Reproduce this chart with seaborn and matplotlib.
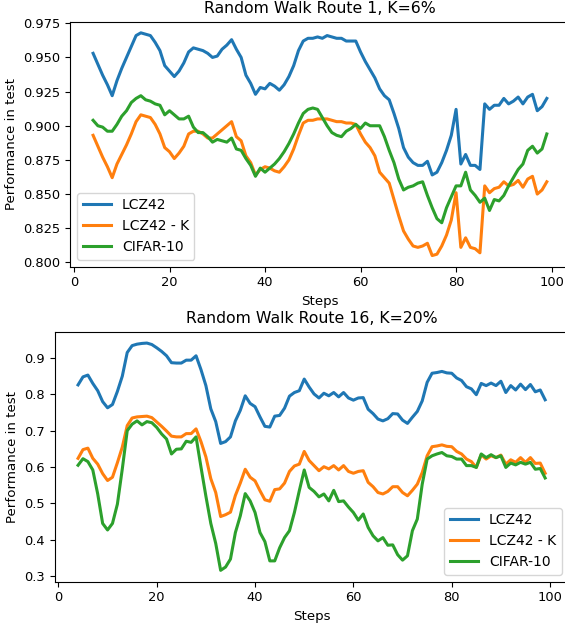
import matplotlib
matplotlib.use("Agg")
import matplotlib.pyplot as plt
import seaborn as sns
import pandas as pd

steps = list(range(4, 100))
series_names = ["LCZ42", "LCZ42 - K", "CIFAR-10"]
colors = ["#1f77b4", "#ff7f0e", "#2ca02c"]
x_ticks = [0, 20, 40, 60, 80, 100]
route1_y_ticks = [0.800, 0.825, 0.850, 0.875, 0.900, 0.925, 0.950, 0.975]
route16_y_ticks = [0.3, 0.4, 0.5, 0.6, 0.7, 0.8, 0.9]

route1_lcz42 = [
    0.953, 0.945, 0.937, 0.930, 0.922, 0.933, 0.942, 0.950, 0.958, 0.966,
    0.968, 0.967, 0.966, 0.961, 0.955, 0.944, 0.940, 0.936, 0.940, 0.946,
    0.954, 0.957, 0.956, 0.955, 0.953, 0.950, 0.951, 0.956, 0.959, 0.963,
    0.956, 0.950, 0.937, 0.931, 0.923, 0.928, 0.927, 0.931, 0.929, 0.926,
    0.930, 0.936, 0.944, 0.955, 0.962, 0.964, 0.964, 0.965, 0.964, 0.966,
    0.965, 0.964, 0.964, 0.962, 0.962, 0.962, 0.954, 0.947, 0.941, 0.935,
    0.927, 0.922, 0.919, 0.909, 0.898, 0.884, 0.877, 0.873, 0.871, 0.871,
    0.874, 0.864, 0.866, 0.873, 0.882, 0.893, 0.912, 0.872, 0.879, 0.871,
    0.871, 0.868, 0.916, 0.912, 0.915, 0.915, 0.920, 0.916, 0.918, 0.921,
    0.916, 0.921, 0.923, 0.911, 0.914, 0.920,
]
route1_lcz42_k = [
    0.893, 0.885, 0.877, 0.870, 0.862, 0.872, 0.879, 0.886, 0.894, 0.903,
    0.908, 0.907, 0.906, 0.901, 0.894, 0.884, 0.881, 0.876, 0.880, 0.885,
    0.894, 0.896, 0.896, 0.894, 0.891, 0.891, 0.894, 0.897, 0.900, 0.903,
    0.892, 0.889, 0.878, 0.873, 0.864, 0.868, 0.870, 0.869, 0.867, 0.866,
    0.870, 0.875, 0.883, 0.893, 0.902, 0.904, 0.904, 0.905, 0.905, 0.905,
    0.904, 0.903, 0.903, 0.902, 0.902, 0.901, 0.894, 0.888, 0.884, 0.878,
    0.866, 0.862, 0.858, 0.846, 0.834, 0.823, 0.817, 0.812, 0.811, 0.812,
    0.814, 0.805, 0.806, 0.812, 0.820, 0.831, 0.851, 0.811, 0.818, 0.811,
    0.810, 0.807, 0.856, 0.851, 0.854, 0.855, 0.859, 0.856, 0.857, 0.860,
    0.855, 0.861, 0.863, 0.850, 0.853, 0.859,
]
route1_cifar = [
    0.904, 0.900, 0.899, 0.896, 0.896, 0.901, 0.907, 0.911, 0.917, 0.920,
    0.922, 0.919, 0.918, 0.916, 0.915, 0.908, 0.911, 0.908, 0.905, 0.905,
    0.907, 0.899, 0.895, 0.895, 0.892, 0.888, 0.890, 0.889, 0.888, 0.891,
    0.883, 0.882, 0.876, 0.871, 0.863, 0.869, 0.866, 0.869, 0.872, 0.876,
    0.881, 0.887, 0.894, 0.902, 0.909, 0.912, 0.913, 0.912, 0.906, 0.900,
    0.895, 0.893, 0.892, 0.896, 0.898, 0.901, 0.898, 0.902, 0.900, 0.900,
    0.900, 0.892, 0.882, 0.873, 0.861, 0.853, 0.855, 0.856, 0.858, 0.859,
    0.849, 0.840, 0.832, 0.829, 0.840, 0.848, 0.856, 0.856, 0.866, 0.853,
    0.849, 0.844, 0.847, 0.838, 0.846, 0.845, 0.849, 0.856, 0.862, 0.868,
    0.872, 0.882, 0.885, 0.880, 0.883, 0.894,
]

route16_lcz42 = [
    0.826, 0.848, 0.853, 0.830, 0.810, 0.780, 0.763, 0.772, 0.808, 0.850,
    0.915, 0.934, 0.938, 0.940, 0.941, 0.937, 0.928, 0.918, 0.906, 0.887,
    0.886, 0.886, 0.894, 0.894, 0.906, 0.868, 0.824, 0.760, 0.725, 0.665,
    0.670, 0.683, 0.727, 0.756, 0.796, 0.775, 0.766, 0.738, 0.712, 0.710,
    0.740, 0.742, 0.762, 0.795, 0.805, 0.810, 0.842, 0.820, 0.801, 0.790,
    0.803, 0.796, 0.805, 0.793, 0.805, 0.790, 0.784, 0.790, 0.791, 0.759,
    0.747, 0.732, 0.727, 0.733, 0.747, 0.746, 0.729, 0.720, 0.737, 0.753,
    0.782, 0.833, 0.858, 0.860, 0.863, 0.859, 0.858, 0.845, 0.838, 0.821,
    0.815, 0.799, 0.830, 0.824, 0.831, 0.824, 0.836, 0.805, 0.824, 0.812,
    0.828, 0.813, 0.827, 0.807, 0.812, 0.785,
]
route16_lcz42_k = [
    0.624, 0.648, 0.652, 0.624, 0.608, 0.582, 0.563, 0.572, 0.612, 0.655,
    0.714, 0.735, 0.738, 0.739, 0.740, 0.736, 0.724, 0.712, 0.699, 0.685,
    0.683, 0.683, 0.692, 0.692, 0.705, 0.670, 0.628, 0.568, 0.530, 0.464,
    0.469, 0.476, 0.522, 0.556, 0.594, 0.572, 0.562, 0.535, 0.510, 0.506,
    0.538, 0.540, 0.556, 0.588, 0.603, 0.608, 0.643, 0.618, 0.604, 0.590,
    0.601, 0.595, 0.604, 0.592, 0.604, 0.588, 0.583, 0.588, 0.590, 0.558,
    0.546, 0.530, 0.526, 0.533, 0.546, 0.546, 0.530, 0.521, 0.536, 0.553,
    0.585, 0.631, 0.656, 0.658, 0.661, 0.657, 0.656, 0.643, 0.636, 0.622,
    0.615, 0.599, 0.634, 0.622, 0.631, 0.626, 0.633, 0.608, 0.620, 0.613,
    0.626, 0.613, 0.626, 0.610, 0.611, 0.583,
]
route16_cifar = [
    0.605, 0.623, 0.615, 0.592, 0.526, 0.445, 0.427, 0.445, 0.498, 0.595,
    0.700, 0.718, 0.727, 0.716, 0.725, 0.722, 0.709, 0.691, 0.677, 0.636,
    0.649, 0.650, 0.671, 0.668, 0.683, 0.600, 0.520, 0.445, 0.390, 0.316,
    0.325, 0.347, 0.420, 0.466, 0.527, 0.507, 0.475, 0.420, 0.395, 0.342,
    0.342, 0.378, 0.406, 0.425, 0.475, 0.535, 0.592, 0.544, 0.533, 0.518,
    0.526, 0.507, 0.536, 0.505, 0.507, 0.490, 0.475, 0.454, 0.471, 0.434,
    0.411, 0.397, 0.406, 0.385, 0.386, 0.359, 0.344, 0.356, 0.425, 0.457,
    0.553, 0.622, 0.631, 0.636, 0.640, 0.631, 0.629, 0.622, 0.622, 0.604,
    0.604, 0.599, 0.636, 0.626, 0.634, 0.626, 0.631, 0.599, 0.611, 0.606,
    0.613, 0.608, 0.613, 0.594, 0.596, 0.570,
]

titles = ["Random Walk Route 1, K=6%", "Random Walk Route 16, K=20%"]
legend_locs = ["lower left", "lower right"]
y_tick_sets = [route1_y_ticks, route16_y_ticks]
y_fmt = ["{:.3f}", "{:.1f}"]


def long_frame(a, b, c):
    rows = []
    for name, vals in zip(series_names, [a, b, c]):
        for s, v in zip(steps, vals):
            rows.append({"Steps": s, "Performance in test": v, "Model": name})
    return pd.DataFrame(rows)


frames = [
    long_frame(route1_lcz42, route1_lcz42_k, route1_cifar),
    long_frame(route16_lcz42, route16_lcz42_k, route16_cifar),
]

W, H = 565, 625
fig = plt.figure(figsize=(W / 100, H / 100), dpi=100)
# axes boxes in pixels (left, top, right, bottom); right edge runs past the figure like the cropped original
boxes = [(70.4, 21.7, 569.5, 266.7), (54.7, 331.7, 568.5, 581.7)]

for i, (df, box) in enumerate(zip(frames, boxes)):
    l, t, r, b = box
    ax = fig.add_axes([l / W, (H - b) / H, (r - l) / W, (b - t) / H])
    sns.lineplot(data=df, x="Steps", y="Performance in test", hue="Model",
                 hue_order=series_names, palette=colors, linewidth=2.2,
                 ax=ax, legend=False)
    ax.set_xticks(x_ticks)
    ax.set_yticks(y_tick_sets[i])
    ax.set_yticklabels([y_fmt[i].format(v) for v in y_tick_sets[i]])
    ax.tick_params(labelsize=9.4)
    ax.set_xlabel("Steps", fontsize=9.6)
    ax.set_ylabel("Performance in test", fontsize=9.6)
    ax.set_title(titles[i], fontsize=11.3)
    handles = [plt.Line2D([], [], color=c, linewidth=2.2) for c in colors]
    ax.legend(handles, series_names, loc=legend_locs[i], fontsize=10)

fig.savefig("out.png", dpi=100)
